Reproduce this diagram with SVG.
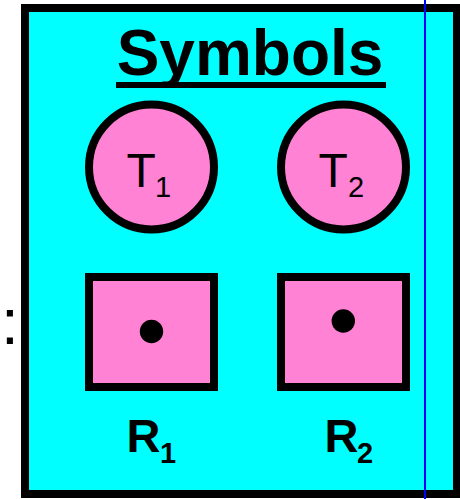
<svg xmlns="http://www.w3.org/2000/svg" width="460" height="499" viewBox="0 0 460 499">
<style>
.shape{fill:#FF82D4;stroke:#000;stroke-width:8}
.lab{font-family:"Liberation Sans",Arial,Helvetica,sans-serif;fill:#000}
.big{font-size:48px}
.sub{font-size:29px}
.bold{font-weight:bold}
</style>
<g id="frame">
<rect x="25" y="8" width="432" height="486" fill="#00FFFF" stroke="#000" stroke-width="8"/>
</g>
<g id="title">
<text class="lab bold" x="250" y="75" font-size="64" text-anchor="middle">Symbols</text>
<rect x="116" y="82" width="270" height="6" fill="#000"/>
</g>
<g id="colon">
<text class="lab" x="1" y="344" font-size="64">:</text>
</g>
<g id="T1">
<circle class="shape" cx="151.5" cy="167" r="62.5"/>
<text class="lab big" x="126.5" y="187">T</text>
<text class="lab sub" x="155" y="197">1</text>
</g>
<g id="T2">
<circle class="shape" cx="343.5" cy="167" r="62.5"/>
<text class="lab big" x="318.5" y="187">T</text>
<text class="lab sub" x="348" y="197">2</text>
</g>
<g id="R1">
<rect class="shape" x="89" y="277" width="125" height="110"/>
<circle cx="151.5" cy="331.5" r="11.7" fill="#000"/>
<text class="lab bold" x="126.5" y="452" font-size="47">R</text>
<text class="lab bold" x="160" y="463" font-size="29">1</text>
</g>
<g id="R2">
<rect class="shape" x="281" y="277" width="125" height="110"/>
<circle cx="343.3" cy="321" r="11.7" fill="#000"/>
<text class="lab bold" x="324.5" y="452" font-size="47">R</text>
<text class="lab bold" x="357" y="463" font-size="29">2</text>
</g>
<g id="connectors">
<line x1="425" y1="0" x2="425" y2="499" stroke="#0000FF" stroke-width="2"/>
</g>
</svg>
